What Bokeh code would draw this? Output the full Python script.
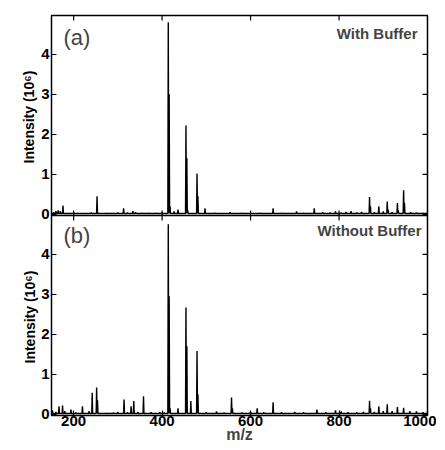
import math
from bokeh.plotting import figure
from bokeh.models import FixedTicker, Range1d, Label, Span, Title
from bokeh.embed import file_html
from bokeh.resources import INLINE

# ---- data ----
x_ticks = [200, 400, 600, 800, 1000]
y_ticks = [0, 1, 2, 3, 4]

mz_a = [155, 160, 165, 170, 176, 200, 240, 253, 275, 300, 313, 322, 334, 340, 355, 370, 385, 400,
        414, 416, 418, 427, 436, 454, 456, 458, 479, 481, 497, 520, 554, 580, 620, 651, 670, 704,
        720, 744, 763, 780, 792, 805, 816, 827, 840, 851, 869, 871, 880, 890, 900, 909, 911, 920,
        932, 934, 946, 948, 962, 975, 990]
int_a = [0.05, 0.08, 0.10, 0.08, 0.22, 0.04, 0.04, 0.45, 0.03, 0.04, 0.15, 0.04, 0.08, 0.05, 0.03, 0.03, 0.03, 0.04,
         4.80, 3.00, 0.20, 0.07, 0.12, 2.22, 1.40, 0.10, 1.02, 0.45, 0.15, 0.03, 0.05, 0.03, 0.03, 0.15, 0.03, 0.07,
         0.03, 0.15, 0.05, 0.04, 0.07, 0.04, 0.06, 0.08, 0.04, 0.06, 0.43, 0.20, 0.05, 0.20, 0.07, 0.32, 0.12, 0.05,
         0.28, 0.10, 0.60, 0.28, 0.05, 0.04, 0.03]

mz_b = [152, 160, 167, 175, 180, 194, 205, 220, 235, 242, 252, 254, 275, 290, 300, 314, 322, 330, 336, 345,
        358, 375, 395, 405, 414, 416, 418, 436, 454, 456, 465, 479, 481, 500, 523, 540, 557, 559, 580, 600,
        615, 630, 651, 670, 700, 720, 750, 770, 792, 805, 820, 840, 855, 869, 871, 880, 890, 900, 909, 920,
        932, 946, 960, 975, 990]
int_b = [0.10, 0.06, 0.20, 0.22, 0.08, 0.12, 0.04, 0.20, 0.08, 0.54, 0.67, 0.35, 0.03, 0.04, 0.06, 0.37, 0.05, 0.20, 0.33, 0.06,
         0.45, 0.05, 0.05, 0.04, 4.75, 2.95, 0.15, 0.15, 2.67, 1.70, 0.33, 1.58, 0.50, 0.05, 0.07, 0.04, 0.42, 0.15, 0.04, 0.06,
         0.15, 0.05, 0.30, 0.05, 0.06, 0.05, 0.12, 0.05, 0.10, 0.07, 0.05, 0.05, 0.06, 0.34, 0.15, 0.06, 0.20, 0.08, 0.25, 0.08,
         0.18, 0.16, 0.08, 0.07, 0.05]

panel_a_tag, panel_a_title = "(a)", "With Buffer"
panel_b_tag, panel_b_title = "(b)", "Without Buffer"
x_label = "m/z"
y_label = "Intensity (10\u2076)"

X_MIN, X_MAX = 150, 1000
Y_LO = -0.03        # bottom of each panel (intensity units)
PANEL = 5           # intensity span of each panel
BASE = 0.02
HALF_W = 1.0
FONT = "Liberation Sans"


def spectrum(mz, inten):
    xs, ys = [X_MIN], [BASE]
    for m, v in sorted(zip(mz, inten)):
        xs += [m - HALF_W, m, m + HALF_W]
        ys += [BASE, v, BASE]
    xs.append(X_MAX)
    ys.append(BASE)
    return xs, ys


# panel (b) lives on the default y range (lower half), panel (a) on range "a" (upper half)
p = figure(width=436, height=446, output_backend="svg", toolbar_location=None,
           x_range=Range1d(X_MIN, X_MAX), y_range=Range1d(Y_LO, Y_LO + 2 * PANEL),
           min_border_left=51, min_border_right=9, min_border_top=15, min_border_bottom=31)
p.extra_y_ranges = {"a": Range1d(Y_LO - PANEL, Y_LO + PANEL)}
p.background_fill_color = "white"
p.border_fill_color = "white"
p.outline_line_color = "black"
p.outline_line_width = 1.5
p.grid.visible = False

xa, ya = spectrum(mz_a, int_a)
xb, yb = spectrum(mz_b, int_b)
p.line(xa, ya, line_color="black", line_width=1.4, y_range_name="a")
p.line(xb, yb, line_color="black", line_width=1.4)

# boundary between the two panels
p.add_layout(Span(location=Y_LO + PANEL, dimension="width", line_color="black", line_width=1.5))

# inward tick marks on right edge, top edge and panel boundary (half clipped by the frame)
TICK = dict(marker="dash", size=10, line_color="black", line_width=1.2)
p.scatter([X_MAX] * len(y_ticks), y_ticks, y_range_name="a", **TICK)
p.scatter([X_MAX] * len(y_ticks), y_ticks, **TICK)
p.scatter(x_ticks, [Y_LO + PANEL] * len(x_ticks), y_range_name="a", angle=math.pi / 2, **TICK)
p.scatter(x_ticks, [Y_LO + PANEL] * len(x_ticks), angle=math.pi / 2, **TICK)

# axes
xax = p.xaxis[0]
yax = p.yaxis[0]
for ax in (xax, yax):
    ax.major_tick_in = 5
    ax.major_tick_out = 0
    ax.minor_tick_line_color = None
    ax.axis_line_color = None
    ax.major_tick_line_color = "black"
    ax.major_tick_line_width = 1.2
    ax.major_label_text_font = FONT
    ax.major_label_text_font_style = "bold"
    ax.major_label_text_font_size = "15px"
    ax.major_label_text_color = "black"

xax.ticker = FixedTicker(ticks=x_ticks)
xax.major_label_standoff = 0
xax.axis_label = x_label
xax.axis_label_text_font = FONT
xax.axis_label_text_font_style = "bold"
xax.axis_label_text_font_size = "16px"
xax.axis_label_standoff = -3

yax.ticker = FixedTicker(ticks=y_ticks + [t + PANEL for t in y_ticks])
yax.major_label_overrides = {t + PANEL: str(t) for t in y_ticks}
yax.major_label_standoff = 2

# one y title per panel, shifted along the left side onto its panel
for off, so in ((252, 4), (52, -42)):
    p.add_layout(Title(text=y_label, align="left", offset=off, standoff=so,
                       text_font=FONT, text_font_style="bold", text_font_size="14px",
                       text_color="black"), "left")

for tag, title, ytag, ytitle, xtitle in ((panel_a_tag, panel_a_title, 378, 382, 366),
                                         (panel_b_tag, panel_b_title, 180, 185, 370)):
    p.add_layout(Label(x=12, y=ytag, x_units="screen", y_units="screen", text=tag,
                       text_font=FONT, text_font_size="22px",
                       text_baseline="middle", text_align="left"))
    p.add_layout(Label(x=xtitle, y=ytitle, x_units="screen", y_units="screen", text=title,
                       text_font=FONT, text_font_size="15px", text_font_style="bold",
                       text_baseline="middle", text_align="right"))

open("out.html", "w").write(file_html(p, INLINE))
